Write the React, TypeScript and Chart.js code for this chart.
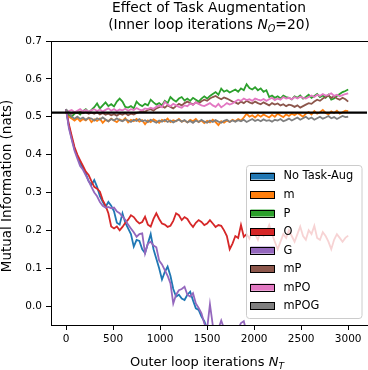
import React, { useEffect, useRef } from 'react';
import { Chart, registerables } from 'chart.js';

Chart.register(...registerables);

// Outer loop iterations (x positions of every sample)
const iterations: number[] = Array.from({ length: 101 }, (_, i) => i * 30);

const noTaskAug = [
  0.520, 0.475, 0.443, 0.415, 0.395, 0.377, 0.365, 0.350, 0.330, 0.320,
  0.333, 0.315, 0.290, 0.275, 0.262, 0.275, 0.265, 0.250, 0.220, 0.215,
  0.245, 0.220, 0.205, 0.190, 0.157, 0.175, 0.172, 0.150, 0.140, 0.165,
  0.190, 0.150, 0.125, 0.100, 0.070, 0.090, 0.104, 0.080, 0.045, 0.025,
  0.030, 0.020, 0.016, 0.030, 0.038, 0.015, -0.006, -0.010, -0.028, -0.040,
  -0.060, -0.070, -0.085, -0.100,
];

const mSeries = [
  0.510, 0.500, 0.495, 0.490, 0.496, 0.488, 0.494, 0.490, 0.497, 0.486,
  0.493, 0.489, 0.495, 0.484, 0.492, 0.488, 0.495, 0.490, 0.486, 0.493,
  0.489, 0.496, 0.485, 0.492, 0.488, 0.494, 0.487, 0.491, 0.480, 0.490,
  0.486, 0.493, 0.489, 0.484, 0.492, 0.488, 0.495, 0.486, 0.491, 0.488,
  0.494, 0.487, 0.490, 0.485, 0.492, 0.488, 0.494, 0.486, 0.490, 0.483,
  0.489, 0.485, 0.492, 0.486, 0.478, 0.488, 0.484, 0.490, 0.486, 0.492,
  0.488, 0.494, 0.490, 0.498, 0.508, 0.500, 0.504, 0.498, 0.505, 0.500,
  0.506, 0.502, 0.498, 0.505, 0.500, 0.508, 0.503, 0.499, 0.506, 0.502,
  0.508, 0.504, 0.510, 0.505, 0.500, 0.508, 0.512, 0.506, 0.515, 0.508,
  0.512, 0.518, 0.510, 0.506, 0.514, 0.510, 0.516, 0.508, 0.512, 0.516,
  0.515,
];

const pSeries = [
  0.515, 0.505, 0.500, 0.508, 0.512, 0.506, 0.515, 0.520, 0.512, 0.518,
  0.525, 0.535, 0.522, 0.530, 0.538, 0.528, 0.533, 0.527, 0.540, 0.548,
  0.540, 0.526, 0.524, 0.528, 0.522, 0.540, 0.532, 0.528, 0.534, 0.530,
  0.545, 0.538, 0.532, 0.536, 0.530, 0.542, 0.536, 0.552, 0.545, 0.540,
  0.548, 0.552, 0.543, 0.548, 0.542, 0.550, 0.545, 0.540, 0.548, 0.554,
  0.548, 0.555, 0.560, 0.565, 0.558, 0.574, 0.566, 0.570, 0.564, 0.568,
  0.572, 0.566, 0.575, 0.570, 0.586, 0.576, 0.572, 0.578, 0.570, 0.575,
  0.566, 0.570, 0.552, 0.556, 0.550, 0.554, 0.548, 0.556, 0.552, 0.550,
  0.546, 0.554, 0.550, 0.556, 0.548, 0.552, 0.558, 0.550, 0.555, 0.560,
  0.552, 0.556, 0.550, 0.558, 0.545, 0.548, 0.555, 0.560, 0.565, 0.568,
  0.572,
];

const oSeries = [
  0.520, 0.480, 0.450, 0.420, 0.400, 0.385, 0.370, 0.355, 0.346, 0.330,
  0.315, 0.310, 0.302, 0.280, 0.265, 0.245, 0.210, 0.205, 0.210, 0.200,
  0.209, 0.220, 0.228, 0.240, 0.235, 0.225, 0.218, 0.222, 0.236, 0.215,
  0.210, 0.230, 0.245, 0.230, 0.218, 0.215, 0.209, 0.212, 0.225, 0.245,
  0.240, 0.227, 0.235, 0.230, 0.218, 0.209, 0.220, 0.227, 0.222, 0.214,
  0.218, 0.227, 0.218, 0.209, 0.214, 0.212, 0.200, 0.185, 0.150, 0.165,
  0.185, 0.180, 0.214, 0.183, 0.190, 0.178, 0.200, 0.190, 0.175, 0.200,
  0.185, 0.195, 0.214, 0.190, 0.170, 0.150, 0.170, 0.190, 0.180, 0.200,
  0.185, 0.170, 0.190, 0.210, 0.185, 0.175, 0.200, 0.190, 0.212, 0.180,
  0.175, 0.195, 0.185, 0.170, 0.150, 0.175, 0.190, 0.180, 0.170, 0.180,
  0.186,
];

const gSeries = [
  0.520, 0.470, 0.440, 0.410, 0.390, 0.370, 0.360, 0.345, 0.330, 0.315,
  0.300, 0.290, 0.275, 0.265, 0.260, 0.262, 0.258, 0.260, 0.250, 0.245,
  0.236, 0.228, 0.215, 0.205, 0.195, 0.183, 0.190, 0.192, 0.139, 0.165,
  0.170, 0.160, 0.155, 0.120, 0.110, 0.095, 0.080, 0.060, 0.007, 0.030,
  0.042, 0.045, 0.051, 0.030, 0.025, 0.034, 0.007, -0.005, -0.019, -0.046,
  -0.060, 0.005, -0.050, -0.070, -0.060, -0.038, -0.060, -0.080, -0.090, -0.080,
  -0.070, -0.060, -0.045, -0.040, -0.070, -0.090, -0.100,
];

const mpSeries = [
  0.515, 0.512, 0.508, 0.512, 0.510, 0.514, 0.509, 0.512, 0.508, 0.511,
  0.508, 0.512, 0.506, 0.510, 0.505, 0.508, 0.504, 0.507, 0.503, 0.508,
  0.505, 0.509, 0.504, 0.508, 0.506, 0.510, 0.512, 0.515, 0.513, 0.518,
  0.520, 0.516, 0.522, 0.525, 0.528, 0.524, 0.530, 0.526, 0.522, 0.528,
  0.534, 0.530, 0.536, 0.540, 0.536, 0.532, 0.538, 0.535, 0.541, 0.545,
  0.542, 0.548, 0.552, 0.555, 0.550, 0.546, 0.551, 0.548, 0.544, 0.540,
  0.538, 0.534, 0.540, 0.536, 0.542, 0.538, 0.535, 0.540, 0.536, 0.533,
  0.538, 0.534, 0.530, 0.536, 0.532, 0.535, 0.530, 0.533, 0.528, 0.532,
  0.530, 0.526, 0.530, 0.524, 0.528, 0.532, 0.536, 0.534, 0.540, 0.545,
  0.542, 0.548, 0.552, 0.556, 0.550, 0.554, 0.548, 0.545, 0.550, 0.546,
  0.540,
];

const mpoSeries = [
  0.510, 0.515, 0.518, 0.512, 0.516, 0.520, 0.514, 0.518, 0.513, 0.517,
  0.520, 0.515, 0.519, 0.514, 0.518, 0.522, 0.516, 0.520, 0.515, 0.519,
  0.517, 0.521, 0.516, 0.520, 0.518, 0.523, 0.519, 0.517, 0.522, 0.520,
  0.524, 0.521, 0.526, 0.530, 0.525, 0.539, 0.532, 0.528, 0.534, 0.530,
  0.526, 0.524, 0.530, 0.528, 0.535, 0.531, 0.538, 0.534, 0.530, 0.528,
  0.532, 0.536, 0.530, 0.526, 0.534, 0.525, 0.530, 0.536, 0.532, 0.535,
  0.540, 0.545, 0.542, 0.548, 0.544, 0.546, 0.542, 0.548, 0.545, 0.543,
  0.547, 0.542, 0.546, 0.550, 0.544, 0.548, 0.545, 0.552, 0.548, 0.550,
  0.546, 0.552, 0.548, 0.553, 0.550, 0.548, 0.552, 0.556, 0.552, 0.558,
  0.555, 0.560, 0.556, 0.558, 0.562, 0.555, 0.558, 0.554, 0.557, 0.560,
  0.562,
];

const mpogSeries = [
  0.520, 0.510, 0.500, 0.495, 0.500, 0.494, 0.498, 0.492, 0.497, 0.495,
  0.490, 0.496, 0.492, 0.498, 0.493, 0.488, 0.494, 0.490, 0.496, 0.491,
  0.488, 0.493, 0.490, 0.486, 0.492, 0.489, 0.494, 0.488, 0.491, 0.486,
  0.492, 0.488, 0.484, 0.490, 0.487, 0.492, 0.486, 0.490, 0.485, 0.489,
  0.492, 0.487, 0.491, 0.485, 0.489, 0.484, 0.490, 0.486, 0.492, 0.487,
  0.484, 0.490, 0.486, 0.491, 0.487, 0.484, 0.489, 0.492, 0.486, 0.490,
  0.487, 0.491, 0.488, 0.492, 0.486, 0.490, 0.494, 0.489, 0.492, 0.488,
  0.493, 0.489, 0.491, 0.487, 0.492, 0.490, 0.494, 0.488, 0.491, 0.495,
  0.490, 0.494, 0.498, 0.492, 0.496, 0.500, 0.494, 0.498, 0.492, 0.496,
  0.500, 0.495, 0.498, 0.502, 0.496, 0.499, 0.494, 0.498, 0.502, 0.499,
  0.500,
];

const seriesNames = ['No Task-Aug', 'm', 'P', 'O', 'G', 'mP', 'mPO', 'mPOG'];
const seriesValues = [noTaskAug, mSeries, pSeries, oSeries, gSeries, mpSeries, mpoSeries, mpogSeries];
const seriesColors = ['#1f77b4', '#ff7f0e', '#2ca02c', '#d62728', '#9467bd', '#8c564b', '#e377c2', '#7f7f7f'];

const baselineMI = 0.511;
const xRange = [-160, 3200];
const yRange = [-0.05, 0.7];
const xTicks = [0, 500, 1000, 1500, 2000, 2500, 3000];
const yTicks = [0, 0.1, 0.2, 0.3, 0.4, 0.5, 0.6, 0.7];

const FONT = "'DejaVu Sans', 'Liberation Sans', sans-serif";

type Part = { text: string; size: number; italic?: boolean; dy?: number };

function drawRich(ctx: CanvasRenderingContext2D, parts: Part[], cx: number, baseline: number) {
  let total = 0;
  const widths = parts.map((p) => {
    ctx.font = `${p.italic ? 'italic ' : ''}${p.size}px ${FONT}`;
    const w = ctx.measureText(p.text).width;
    total += w;
    return w;
  });
  let x = cx - total / 2;
  ctx.textAlign = 'left';
  ctx.textBaseline = 'alphabetic';
  parts.forEach((p, i) => {
    ctx.font = `${p.italic ? 'italic ' : ''}${p.size}px ${FONT}`;
    ctx.fillText(p.text, x, baseline + (p.dy || 0));
    x += widths[i];
  });
}

const decorPlugin = {
  id: 'decor',
  afterDatasetsDraw(chart: any) {
    const ctx: CanvasRenderingContext2D = chart.ctx;
    const area = chart.chartArea;
    ctx.save();
    // top spine
    ctx.strokeStyle = '#000';
    ctx.lineWidth = 1;
    ctx.beginPath();
    ctx.moveTo(area.left, Math.round(area.top) + 0.5);
    ctx.lineTo(chart.width, Math.round(area.top) + 0.5);
    ctx.stroke();

    // legend
    const lx = 246.5, ly = 165.5, lw = 115.5, lh = 153, r = 3;
    ctx.beginPath();
    ctx.moveTo(lx + r, ly);
    ctx.lineTo(lx + lw - r, ly);
    ctx.quadraticCurveTo(lx + lw, ly, lx + lw, ly + r);
    ctx.lineTo(lx + lw, ly + lh - r);
    ctx.quadraticCurveTo(lx + lw, ly + lh, lx + lw - r, ly + lh);
    ctx.lineTo(lx + r, ly + lh);
    ctx.quadraticCurveTo(lx, ly + lh, lx, ly + lh - r);
    ctx.lineTo(lx, ly + r);
    ctx.quadraticCurveTo(lx, ly, lx + r, ly);
    ctx.closePath();
    ctx.fillStyle = 'rgba(255,255,255,0.8)';
    ctx.fill();
    ctx.strokeStyle = '#cccccc';
    ctx.stroke();

    seriesNames.forEach((name, i) => {
      const cy = 176 + i * 18.53;
      ctx.fillStyle = seriesColors[i];
      ctx.fillRect(250.5, cy - 3.5, 24, 7);
      ctx.strokeStyle = '#000';
      ctx.lineWidth = 1;
      ctx.strokeRect(250.5, Math.round(cy - 3.5) + 0.5, 24, 7);
      ctx.fillStyle = '#000';
      ctx.font = `11.4px ${FONT}`;
      ctx.textAlign = 'left';
      ctx.textBaseline = 'middle';
      ctx.fillText(name, 283.5, cy + 0.5);
    });

    // titles
    ctx.fillStyle = '#000';
    const cx = (area.left + area.right) / 2;
    drawRich(ctx, [{ text: 'Effect of Task Augmentation', size: 13.8 }], cx, 12);
    drawRich(
      ctx,
      [
        { text: '(Inner loop iterations ', size: 13.8 },
        { text: 'N', size: 13.8, italic: true },
        { text: 'O', size: 9.7, italic: true, dy: 2.5 },
        { text: '=20)', size: 13.8 },
      ],
      cx,
      29
    );
    // x axis label
    drawRich(
      ctx,
      [
        { text: 'Outer loop iterations ', size: 13 },
        { text: 'N', size: 13, italic: true },
        { text: 'T', size: 9.1, italic: true, dy: 2.5 },
      ],
      cx - 2,
      366
    );
    // y axis label
    ctx.save();
    ctx.translate(11, (area.top + area.bottom) / 2 + 3);
    ctx.rotate(-Math.PI / 2);
    ctx.font = `13.5px ${FONT}`;
    ctx.textAlign = 'center';
    ctx.textBaseline = 'alphabetic';
    ctx.fillText('Mutual Information (nats)', 0, 0);
    ctx.restore();
    ctx.restore();
  },
};

export default function App() {
  const canvasRef = useRef<HTMLCanvasElement | null>(null);

  useEffect(() => {
    if (!canvasRef.current) return;
    const datasets: any[] = seriesNames.map((name, i) => ({
      label: name,
      data: seriesValues[i].map((v, j) => ({ x: iterations[j], y: v })),
      borderColor: seriesColors[i],
      backgroundColor: seriesColors[i],
      borderWidth: 1.8,
      pointRadius: 0,
      tension: 0,
      fill: false,
      clip: 0,
      order: 20 - i,
    }));
    datasets.push({
      label: 'baseline',
      data: [
        { x: xRange[0], y: baselineMI },
        { x: xRange[1], y: baselineMI },
      ],
      borderColor: '#000',
      borderWidth: 2.2,
      pointRadius: 0,
      fill: false,
      clip: 0,
      order: 0,
    });

    const chart = new Chart(canvasRef.current, {
      type: 'line',
      data: { datasets },
      plugins: [decorPlugin],
      options: {
        animation: false,
        responsive: false,
        maintainAspectRatio: false,
        events: [],
        layout: { padding: { top: 41, right: 1, left: 0, bottom: 0 } },
        plugins: {
          legend: { display: false },
          title: { display: false },
          tooltip: { enabled: false },
        },
        scales: {
          x: {
            type: 'linear',
            min: xRange[0],
            max: xRange[1],
            afterBuildTicks: (scale: any) => {
              scale.ticks = xTicks.map((v) => ({ value: v }));
            },
            afterFit: (scale: any) => {
              scale.height = 45;
            },
            grid: {
              drawOnChartArea: false,
              drawTicks: true,
              tickLength: 5,
              tickColor: '#000',
              tickWidth: 1,
            },
            border: { display: true, color: '#000', width: 1 },
            ticks: {
              color: '#000',
              padding: 3,
              maxRotation: 0,
              autoSkip: false,
              font: { family: FONT, size: 10.5 },
              callback: (v: any) => String(v),
            },
          },
          y: {
            type: 'linear',
            min: yRange[0],
            max: yRange[1],
            afterBuildTicks: (scale: any) => {
              scale.ticks = yTicks.map((v) => ({ value: v }));
            },
            afterFit: (scale: any) => {
              scale.width = 51;
            },
            grid: {
              drawOnChartArea: false,
              drawTicks: true,
              tickLength: 5,
              tickColor: '#000',
              tickWidth: 1,
            },
            border: { display: true, color: '#000', width: 1 },
            ticks: {
              color: '#000',
              padding: 4,
              autoSkip: false,
              font: { family: FONT, size: 10.5 },
              callback: (v: any) => Number(v).toFixed(1),
            },
          },
        },
      },
    });
    return () => chart.destroy();
  }, []);

  return (
    <div style={{ position: 'absolute', left: 0, top: 0, width: 368, height: 370, background: '#fff' }}>
      <canvas ref={canvasRef} width={368} height={370} style={{ display: 'block' }} />
    </div>
  );
}
